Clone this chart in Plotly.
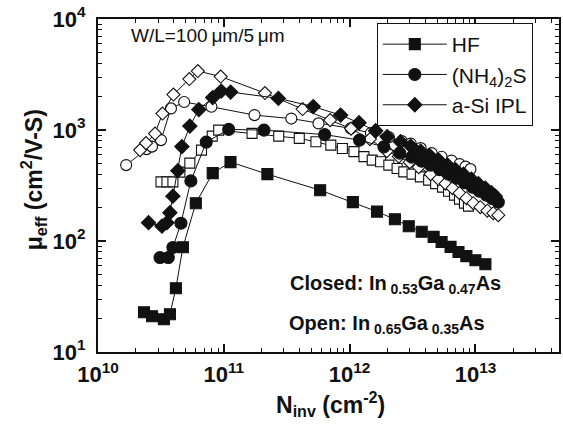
import plotly.graph_objects as go

# ---- In0.53Ga0.47As channel (closed symbols) ----
hf_n = [2.32e10, 2.69e10, 3.34e10, 3.73e10, 4.16e10, 4.73e10, 5.99e10, 8.16e10, 1.13e11,
        2.22e11, 5.83e11, 1.06e12, 1.65e12, 2.29e12, 2.95e12, 3.74e12, 4.65e12, 5.38e12,
        6.34e12, 7.33e12, 8.47e12, 1.0e13, 1.2e13]
hf_mu = [22.8, 21.0, 19.7, 21.9, 37.5, 87.9, 219, 409, 514,
         400, 287, 224, 184, 157, 136, 121, 109, 98,
         88.5, 79.7, 73, 67.1, 61.8]

nh4_n = [3.11e10, 3.62e10, 3.94e10, 4.56e10, 5.47e10, 7.25e10, 1.093e11, 2.085e11, 6.33e11,
         1.198e12, 1.871e12, 2.503e12, 3.115e12, 3.737e12, 4.404e12, 5.19e12, 6.11e12,
         7.07e12, 8.18e12, 9.46e12, 1.075e13, 1.221e13, 1.362e13, 1.519e13]
nh4_mu = [71.0, 71.0, 87.4, 144.7, 348, 778, 1013, 998, 909,
          811, 705, 619, 570, 524, 483, 440, 400,
          368, 335.5, 305.6, 281, 259, 240.7, 223.8]

asi_n = [2.522e10, 3.225e10, 3.532e10, 3.73e10, 3.94e10, 4.315e10, 4.642e10, 5.37e10,
         6.327e10, 8.16e10, 9.53e10, 1.133e11, 2.715e11, 5.135e11, 8.475e11, 1.187e12,
         1.609e12, 1.987e12, 2.536e12, 3.059e12, 3.67e12, 4.324e12, 5.093e12, 6.0e12,
         6.94e12, 8.03e12, 9.29e12, 1.055e13, 1.199e13, 1.337e13, 1.438e13]
asi_mu = [146.2, 136, 146.2, 180, 253.5, 430.5, 708.7, 1084,
          1527, 1960, 2243, 2197, 1927, 1626, 1362, 1161,
          983.5, 868.5, 782.8, 715.9, 645.1, 587.7, 535.4, 482.6,
          439.5, 400.2, 360.7, 328.6, 299.4, 272.6, 253.5]

# ---- In0.65Ga0.35As channel (open symbols) ----
hf65_n = [3.168e10, 3.532e10, 3.94e10, 4.476e10, 5.37e10, 6.646e10, 8.089e10, 9.106e10,
          1.676e11, 2.731e11, 3.979e11, 5.395e11, 7.087e11, 8.756e11, 1.083e12, 1.3e12,
          1.512e12, 1.762e12, 2.049e12, 2.384e12, 2.693e12, 3.133e12, 3.65e12, 4.246e12,
          4.824e12, 5.478e12, 6.11e12, 6.816e12, 7.467e12, 8.175e12, 8.797e12]
hf65_mu = [341.2, 341.2, 341.2, 417.3, 502.8, 658.8, 881, 998,
           932, 881, 840, 782.8, 730.9, 682.3, 638.5, 575.7,
           535.4, 516.8, 482.6, 450.6, 419.9, 400.2, 378.4, 353.4,
           328.6, 305.6, 281, 259, 238.2, 219.2, 206]

nh465_n = [1.674e10, 2.432e10, 2.688e10, 3.168e10, 3.8e10, 4.84e10, 7.97e10, 1.754e11,
           3.44e11, 5.655e11, 1.02e12, 1.476e12, 2.049e12, 2.597e12, 3.059e12, 3.67e12,
           4.484e12, 5.38e12, 6.453e12, 7.467e12, 8.33e12, 9.12e12]
nh465_mu = [482.6, 672.6, 708.7, 811, 1566, 1785, 1619, 1362,
            1267, 1147, 1034, 937.8, 863, 794, 754, 686.6,
            619, 573.3, 529.9, 492.7, 467.7, 444.1]

asi65_n = [2.16e10, 2.41e10, 2.839e10, 3.254e10, 3.977e10, 5.321e10, 6.213e10, 9.443e10,
           2.123e11, 4.227e11, 6.998e11, 1.026e12, 1.45e12, 1.976e12, 2.459e12, 3.004e12,
           3.539e12, 4.404e12, 5.093e12, 5.787e12, 6.572e12, 7.467e12, 8.481e12, 9.63e12,
           1.094e13, 1.243e13, 1.387e13, 1.519e13]
asi65_mu = [658.8, 762, 928, 1406, 2085, 2877, 3397, 3030,
            2151, 1544, 1228, 1029, 828, 645, 575.7, 513.4,
            463, 400.2, 360.7, 328.6, 299.4, 269.8, 243.2, 219.2,
            201.7, 187.6, 178.1, 170.8]

# axis tick labels
x_tickvals = [1e10, 1e11, 1e12, 1e13]
x_ticktext = ["<b>10<sup>10</sup></b>", "<b>10<sup>11</sup></b>",
              "<b>10<sup>12</sup></b>", "<b>10<sup>13</sup></b>"]
y_tickvals = [10, 100, 1000, 10000]
y_ticktext = ["<b>10<sup>1</sup></b>", "<b>10<sup>2</sup></b>",
              "<b>10<sup>3</sup></b>", "<b>10<sup>4</sup></b>"]

FONT = "Liberation Sans, Arial, sans-serif"
BLACK = "#111111"


def series(n, mu, symbol, size, filled, name=None):
    return go.Scatter(
        x=n, y=mu, mode="lines+markers", name=name,
        showlegend=name is not None, legendgroup=name,
        line=dict(color=BLACK, width=1),
        marker=dict(symbol=symbol, size=size,
                    color=BLACK if filled else "white",
                    line=dict(color=BLACK, width=1.1)),
    )


fig = go.Figure()
fig.add_trace(series(hf65_n, hf65_mu, "square", 10, False))
fig.add_trace(series(nh465_n, nh465_mu, "circle", 11, False))
fig.add_trace(series(asi65_n, asi65_mu, "diamond", 10, False))
fig.add_trace(series(hf_n, hf_mu, "square", 11, True, "HF"))
fig.add_trace(series(nh4_n, nh4_mu, "circle", 12, True, "(NH<sub>4</sub>)<sub>2</sub>S"))
fig.add_trace(series(asi_n, asi_mu, "diamond", 11, True, "a-Si IPL"))


def minor_vals(lo, hi):
    vals = []
    for e in range(lo, hi):
        for m in range(2, 10):
            vals.append(m * 10 ** e)
    return vals


axis_common = dict(
    showline=True, linecolor=BLACK, linewidth=2, mirror="allticks",
    ticks="inside", ticklen=8, tickwidth=1.5, tickcolor=BLACK,
    showgrid=False, zeroline=False, tickmode="array",
    tickfont=dict(family=FONT, size=22, color=BLACK),
)

fig.update_xaxes(type="log", range=[10, 13.664], tickvals=x_tickvals, ticktext=x_ticktext,
                 minor=dict(tickmode="array", tickvals=minor_vals(10, 14), ticks="inside",
                            ticklen=4, tickwidth=1, tickcolor=BLACK, showgrid=False),
                 ticklabelstandoff=2, **axis_common)
fig.update_yaxes(type="log", range=[1, 4], tickvals=y_tickvals, ticktext=y_ticktext,
                 minor=dict(tickmode="array", tickvals=minor_vals(1, 4), ticks="inside",
                            ticklen=4, tickwidth=1, tickcolor=BLACK, showgrid=False),
                 ticklabelstandoff=6, **axis_common)

W, H = 563, 424
L, R, T, B = 98, 2, 19, 72
pw, ph = W - L - R, H - T - B


def px(x):
    return (x - L) / pw


def py(y):
    return 1 - (y - T) / ph


annotations = [
    dict(text="<b>N<sub>inv</sub> (cm<sup>-2</sup>)</b>", x=px(332), y=py(404),
         font=dict(size=23)),
    dict(text="<b>\u03bc<sub>eff</sub> (cm<sup>2</sup>/V-S)</b>", x=px(33), y=py(180),
         textangle=-90, font=dict(size=23)),
    dict(text="W/L=100\u2009\u03bcm/5\u2009\u03bcm", x=px(129), y=py(36), xanchor="left",
         font=dict(size=19)),
    dict(text="<b>Closed: In<sub> 0.53</sub>Ga<sub> 0.47</sub>As</b>", x=px(289), y=py(284),
         xanchor="left", font=dict(size=20)),
    dict(text="<b>Open: In<sub> 0.65</sub>Ga<sub> 0.35</sub>As</b>", x=px(288), y=py(324),
         xanchor="left", font=dict(size=20)),
]
for a in annotations:
    a.update(xref="paper", yref="paper", showarrow=False)
    a.setdefault("xanchor", "center")
    a.setdefault("yanchor", "middle")
    a["font"].update(family=FONT, color=BLACK)

fig.update_layout(
    width=W, height=H,
    margin=dict(l=L, r=R, t=T, b=B),
    plot_bgcolor="white", paper_bgcolor="white",
    font=dict(family=FONT, color=BLACK),
    annotations=annotations,
    legend=dict(x=px(378), y=py(23), xanchor="left", yanchor="top",
                bordercolor=BLACK, borderwidth=1, bgcolor="white",
                font=dict(family=FONT, size=21, color=BLACK),
                itemwidth=64, tracegroupgap=0),
)

fig.write_html("out.html")
